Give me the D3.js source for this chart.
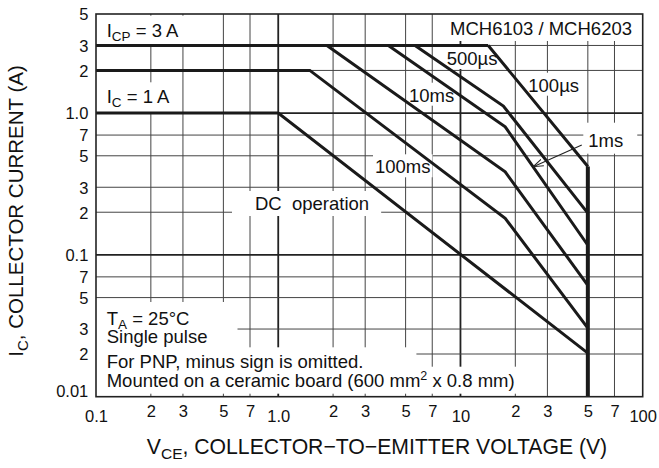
<!DOCTYPE html>
<html>
<head>
<meta charset="utf-8">
<script src="https://cdn.jsdelivr.net/npm/d3@7"></script>
<style>
body { margin: 0; background: #fff; }
svg { font-family: "Liberation Sans", Arial, Helvetica, sans-serif; }
</style>
</head>
<body>
<div id="container"></div>
<script>
// ticks
const xTicks = [0.1, 0.2, 0.3, 0.5, 0.7, 1, 2, 3, 5, 7, 10, 20, 30, 50, 70, 100]
const xTickLabels = ["0.1", "2", "3", "5", "7", "1.0", "2", "3", "5", "7", "10", "2", "3", "5", "7", "100"]
const yTicks = [0.01, 0.02, 0.03, 0.05, 0.07, 0.1, 0.2, 0.3, 0.5, 0.7, 1, 2, 3, 5]
const yTickLabels = ["0.01", "2", "3", "5", "7", "0.1", "2", "3", "5", "7", "1.0", "2", "3", "5"]
const decades = [0.01, 0.1, 1, 10, 100]

// SOA curves, [VCE (V), IC (A)]
const icpLine = [[0.1, 3], [14.2, 3]]
const curve100us = [[14.2, 3], [45.3, 0.49], [50, 0.42]]
const curve500us = [[5.63, 3], [17.2, 1.12], [50, 0.197]]
const curve1ms = [[4.02, 3], [17.6, 0.80], [50, 0.117]]
const curve10ms = [[1.85, 3], [17.6, 0.385], [50, 0.061]]
const curve100ms = [[0.1, 2], [1.49, 2], [17.6, 0.181], [50, 0.0305]]
const curveDC = [[0.1, 1], [1.0, 1], [50, 0.0203]]
const vceoLine = [[50, 0.42], [50, 0.01]]
const arrow1ms = [[46.3, 0.596], [25.1, 0.419]]

const ancho = 659
const alto = 468
const margin = {top: 14, right: 16.3, bottom: 71.3, left: 96}

const x = d3.scaleLog().domain([0.1, 100]).range([margin.left, ancho - margin.right])
const y = d3.scaleLog().domain([0.01, 5]).range([alto - margin.bottom, margin.top])

const svg = d3.select("#container").append("svg")
    .attr("width", ancho)
    .attr("height", alto)

svg.append("defs").append("marker")
    .attr("id", "flecha")
    .attr("viewBox", "0 0 10 10")
    .attr("refX", 10).attr("refY", 5)
    .attr("markerWidth", 10).attr("markerHeight", 10)
    .attr("markerUnits", "userSpaceOnUse")
    .attr("orient", "auto")
    .append("path")
    .attr("d", "M0,1.5 L10,5 L0,8.5")
    .attr("fill", "none")
    .attr("stroke", "#222")
    .attr("stroke-width", 1.1)

// grid
const grid = svg.append("g")
grid.selectAll(".vx").data(xTicks.slice(1, -1)).enter().append("line")
    .attr("x1", d => x(d)).attr("x2", d => x(d))
    .attr("y1", y(5)).attr("y2", y(0.01))
    .attr("stroke", d => decades.includes(d) ? "#222" : "#444")
    .attr("stroke-width", d => decades.includes(d) ? 1.8 : 1)
grid.selectAll(".hy").data(yTicks.slice(1, -1)).enter().append("line")
    .attr("y1", d => y(d)).attr("y2", d => y(d))
    .attr("x1", x(0.1)).attr("x2", x(100))
    .attr("stroke", d => decades.includes(d) ? "#222" : "#444")
    .attr("stroke-width", d => decades.includes(d) ? 1.8 : 1)

const boxes = svg.append("g")
const curvas = svg.append("g")
const textos = svg.append("g")

// annotations: x, y in px (text start / baseline), pad [l, t, r, b]
const notas = [
  {x: 106.7, y: 36.7, parts: [["I"], ["CP", "sub"], [" = 3 A"]], pad: [6, 4, 6, 3]},
  {x: 106.7, y: 103.3, parts: [["I"], ["C", "sub"], [" = 1 A"]], pad: [6, 4, 6, 3]},
  {x: 632, y: 35, anchor: "end", parts: [["MCH6103 / MCH6203"]], pad: [4, 4, 4, 2]},
  {x: 446.7, y: 65, parts: [["500µs"]], pad: [2, 1, 2, 0]},
  {x: 528.3, y: 91.7, parts: [["100µs"]], pad: [2, 2, 2, 0]},
  {x: 409, y: 101.7, parts: [["10ms"]], pad: [2, 2, 2, 0]},
  {x: 588.3, y: 146.7, parts: [["1ms"]], pad: [5, 7, 14, 3]},
  {x: 375, y: 173.3, parts: [["100ms"]], pad: [2, 2, 2, 0]},
  {x: 255, y: 210, parts: [["DC  operation"]], pad: [23, 2, 12, 2]},
  {x: 106.7, y: 325, parts: [["T"], ["A", "sub"], [" = 25°C"]], pad: [11, 6, 45, 0]},
  {x: 106.7, y: 343.3, parts: [["Single pulse"]], pad: [11, 2, 30, 6]},
  {x: 106.7, y: 368.3, parts: [["For PNP, minus sign is omitted."]], pad: [11, 4, 53, 2]},
  {x: 106.7, y: 386.7, parts: [["Mounted on a ceramic board (600 mm"], ["2", "sup"], [" x 0.8 mm)"]], pad: [11, 2, 3, 3]}
]

notas.forEach(function(n) {
    const t = textos.append("text")
        .attr("x", n.x).attr("y", n.y)
        .attr("text-anchor", n.anchor || "start")
        .attr("font-size", 18.5)
        .attr("fill", "#111")
        .style("white-space", "pre")
    let shift = 0
    n.parts.forEach(function(p) {
        let dy = 0
        let fs = null
        if (p[1] == "sub") { dy = 4 - shift; shift = 4; fs = 13.5 }
        else if (p[1] == "sup") { dy = -7 - shift; shift = -7; fs = 12.5 }
        else { dy = -shift; shift = 0 }
        const s = t.append("tspan").attr("dy", dy).text(p[0])
        if (fs) s.attr("font-size", fs)
    })
    const b = t.node().getBBox()
    boxes.append("rect")
        .attr("x", b.x - n.pad[0])
        .attr("y", b.y - n.pad[1])
        .attr("width", b.width + n.pad[0] + n.pad[2])
        .attr("height", b.height + n.pad[1] + n.pad[3])
        .attr("fill", "#fff")
})

// curves
const linea = d3.line().x(d => x(d[0])).y(d => y(d[1]))
const todas = [icpLine, curve100us, curve500us, curve1ms, curve10ms, curve100ms, curveDC]
curvas.selectAll("path.soa").data(todas).enter().append("path")
    .attr("d", linea)
    .attr("fill", "none")
    .attr("stroke", "#1a1a1a")
    .attr("stroke-width", 3)
    .attr("stroke-linejoin", "miter")
curvas.append("path")
    .attr("d", linea(vceoLine))
    .attr("fill", "none")
    .attr("stroke", "#1a1a1a")
    .attr("stroke-width", 4)
curvas.append("path")
    .attr("d", linea(arrow1ms))
    .attr("fill", "none")
    .attr("stroke", "#222")
    .attr("stroke-width", 1.1)
    .attr("marker-end", "url(#flecha)")

// frame
svg.append("rect")
    .attr("x", x(0.1)).attr("y", y(5))
    .attr("width", x(100) - x(0.1)).attr("height", y(0.01) - y(5))
    .attr("fill", "none")
    .attr("stroke", "#222")
    .attr("stroke-width", 1.6)

// axes
const ejeX = svg.append("g")
    .attr("transform", "translate(0," + y(0.01) + ")")
    .call(d3.axisBottom(x).tickValues(xTicks).tickSize(0).tickPadding(0)
        .tickFormat((d, i) => xTickLabels[i]))
ejeX.select(".domain").remove()
ejeX.selectAll("text")
    .attr("font-family", "Liberation Sans, Arial, sans-serif")
    .attr("font-size", 16.5)
    .attr("fill", "#111")
    .attr("dy", null)
    .attr("y", d => decades.includes(d) ? 25 : 20.3)

const ejeY = svg.append("g")
    .attr("transform", "translate(" + x(0.1) + ",0)")
    .call(d3.axisLeft(y).tickValues(yTicks).tickSize(0).tickPadding(7.7)
        .tickFormat((d, i) => yTickLabels[i]))
ejeY.select(".domain").remove()
ejeY.selectAll("text")
    .attr("font-family", "Liberation Sans, Arial, sans-serif")
    .attr("font-size", 16.5)
    .attr("fill", "#111")
    .attr("dy", d => d == 0.01 ? "0.0em" : "0.35em")

// titles
const tituloX = svg.append("text")
    .attr("x", 377).attr("y", 454)
    .attr("text-anchor", "middle")
    .attr("font-size", 21.2)
    .attr("fill", "#111")
tituloX.append("tspan").text("V")
tituloX.append("tspan").attr("dy", 5).attr("font-size", 15.5).text("CE")
tituloX.append("tspan").attr("dy", -5).text(", COLLECTOR−TO−EMITTER VOLTAGE (V)")

const tituloY = svg.append("text")
    .attr("transform", "translate(23,211) rotate(-90)")
    .attr("text-anchor", "middle")
    .attr("font-size", 20.5)
    .attr("fill", "#111")
tituloY.append("tspan").text("I")
tituloY.append("tspan").attr("dy", 5).attr("font-size", 15).text("C")
tituloY.append("tspan").attr("dy", -5).text(", COLLECTOR CURRENT (A)")
</script>
</body>
</html>
